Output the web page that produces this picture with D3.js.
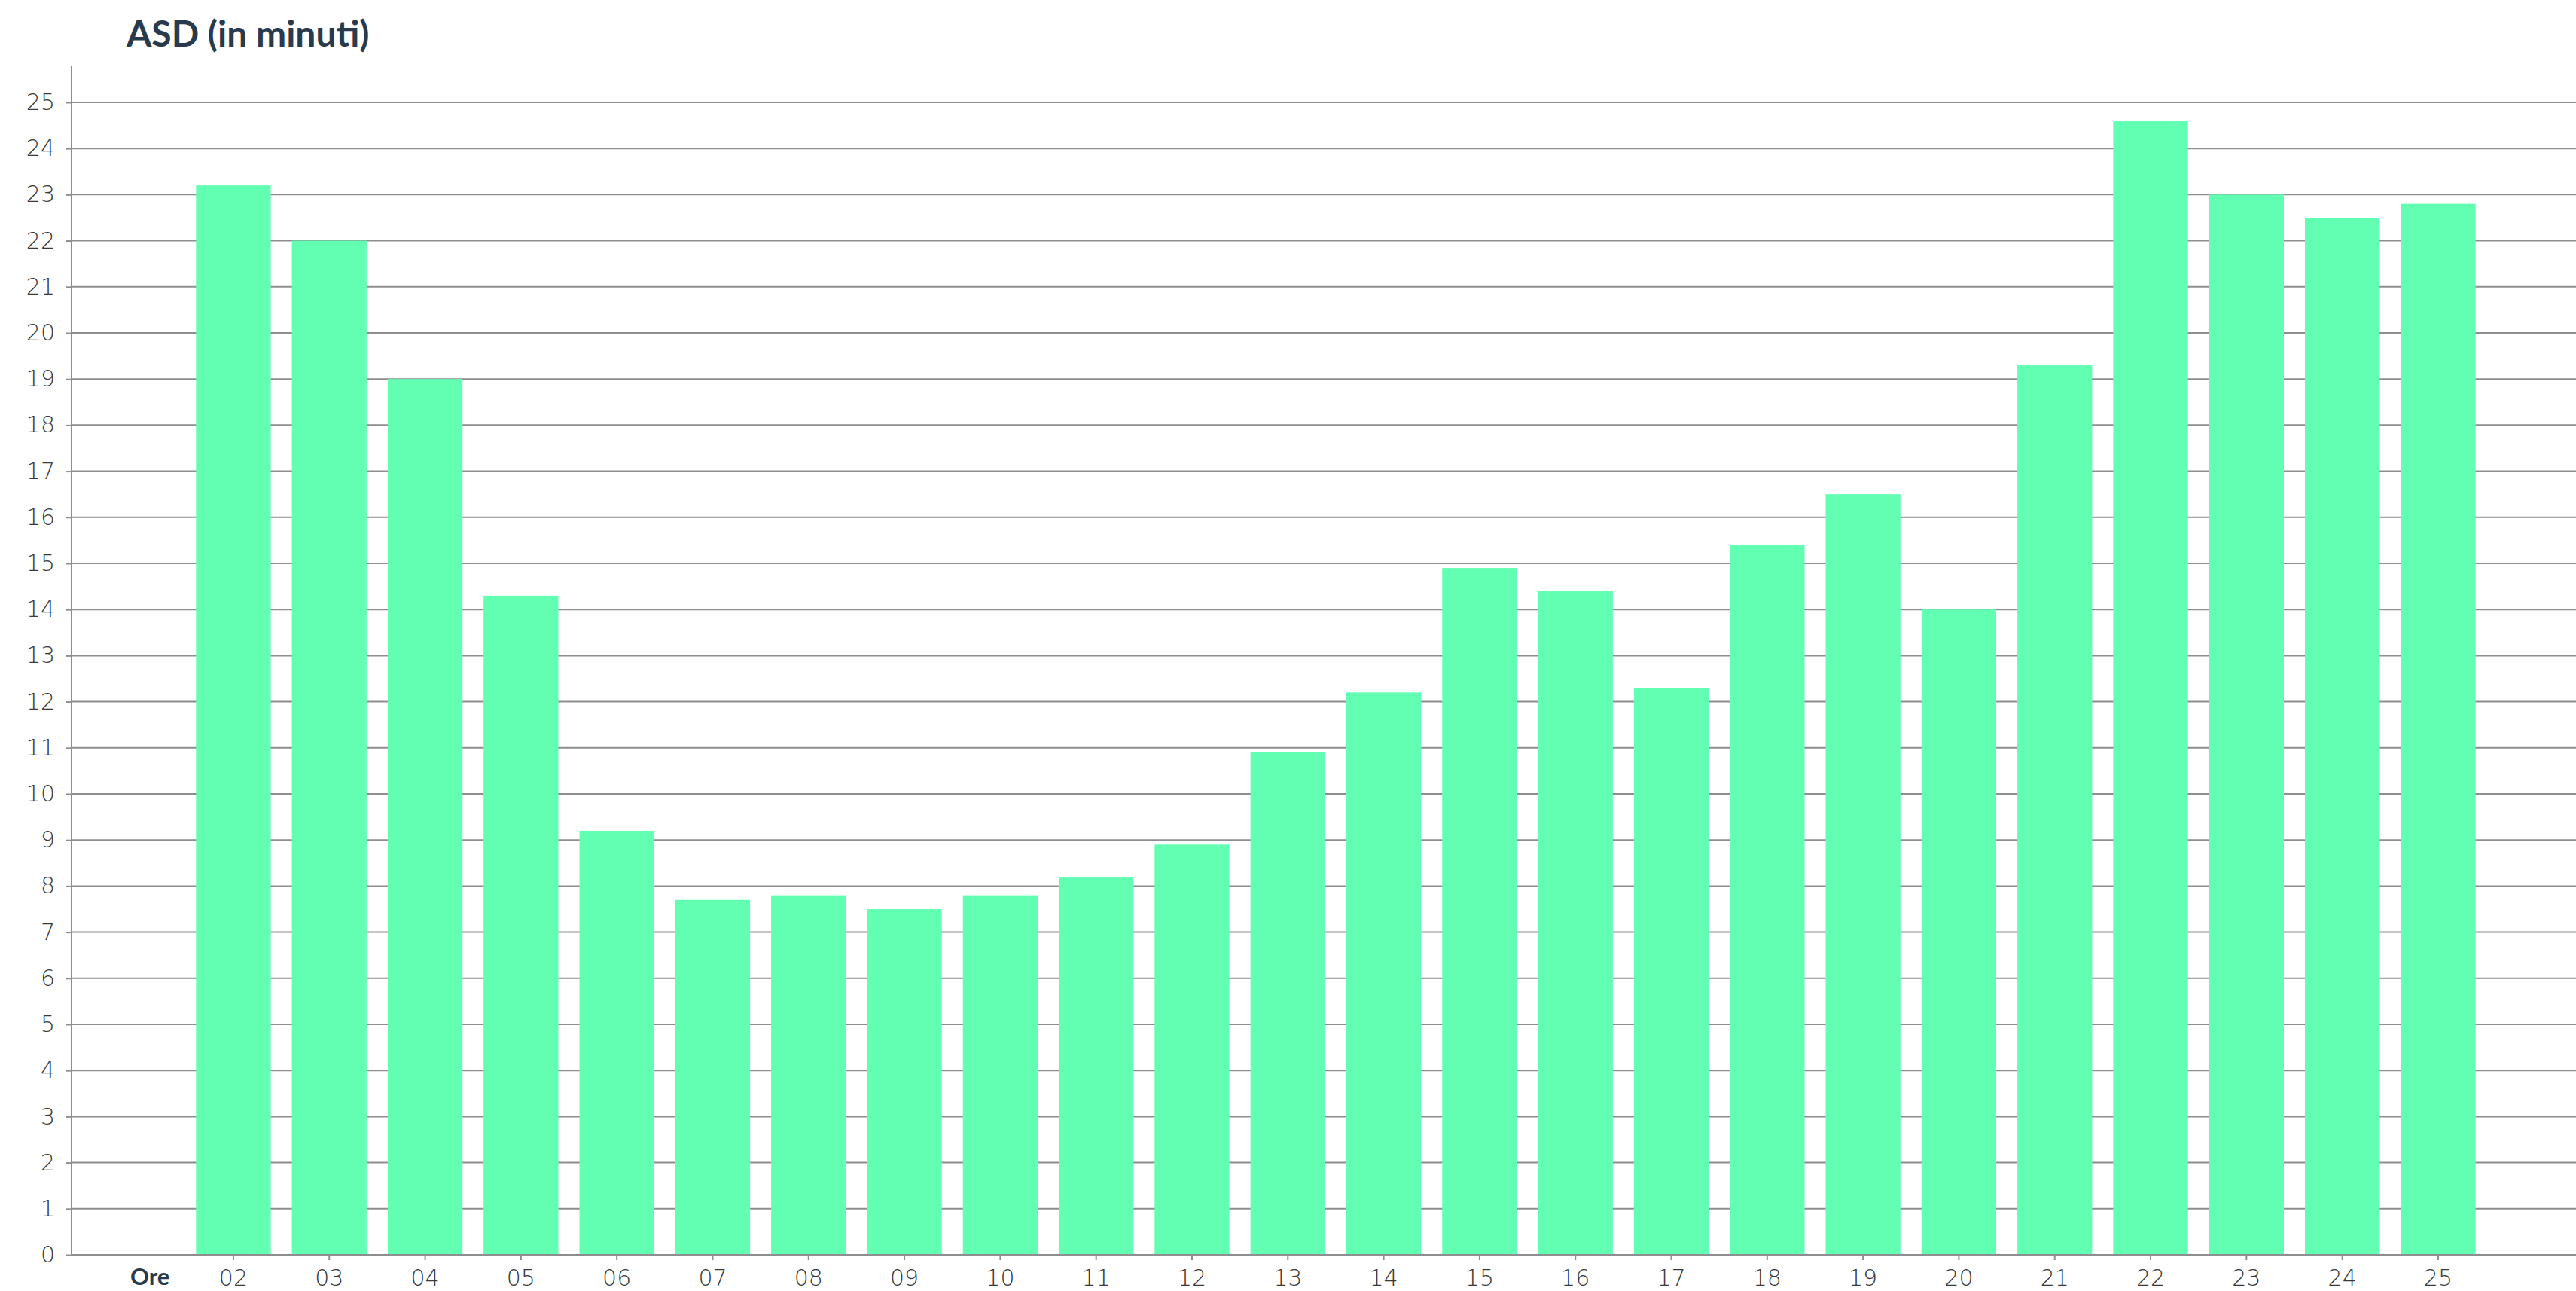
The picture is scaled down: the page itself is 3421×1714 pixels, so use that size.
<!DOCTYPE html>
<html>
<head>
<meta charset="utf-8">
<script src="https://cdn.jsdelivr.net/npm/d3@7"></script>
<style>
    html, body { margin: 0; padding: 0; background: #fff; }
    svg { display: block; }
    .tick text { font-family: "DejaVu Sans", sans-serif; font-weight: 200; fill: #3a3a3a; }
    .title, .x-title { font-family: "Lato", sans-serif; fill: #2a3a4d; }
</style>
</head>
<body>
<div id="chart"></div>
<script>
// hours shown on the x axis
var hours = ['02', '03', '04', '05', '06', '07', '08', '09', '10', '11', '12', '13',
    '14', '15', '16', '17', '18', '19', '20', '21', '22', '23', '24', '25'];

// ASD in minutes, one value per hour
var asdValues = [23.2, 22.0, 19.0, 14.3, 9.2, 7.7, 7.8, 7.5, 7.8, 8.2, 8.9, 10.9,
    12.2, 14.9, 14.4, 12.3, 15.4, 16.5, 14.0, 19.3, 24.6, 23.0, 22.5, 22.8];

var yTicks = d3.range(0, 26);

var chartTitle = 'ASD (in minuti)';
var xAxisTitle = 'Ore';

var width = 3421;
var height = 1714;
var axisX = 95;
var baseY = 1666;

var data = hours.map(function (h, i) {
    return { hour: h, value: asdValues[i] };
});

var svg = d3.select('#chart')
    .append('svg')
    .attr('width', width)
    .attr('height', height);

var x = d3.scaleBand()
    .domain(hours)
    .range([260.3, 3287.6])
    .paddingInner(0.22)
    .paddingOuter(0);

var y = d3.scaleLinear()
    .domain([0, 25.8])
    .range([baseY, 87]);

// horizontal grid lines
svg.append('g')
    .attr('class', 'grid')
    .selectAll('line')
    .data(yTicks)
    .enter()
    .append('line')
    .attr('x1', axisX)
    .attr('x2', width)
    .attr('y1', function (d) { return y(d); })
    .attr('y2', function (d) { return y(d); })
    .attr('stroke', '#8e8e8e')
    .attr('stroke-width', 2);

// bars
svg.append('g')
    .selectAll('rect')
    .data(data)
    .enter()
    .append('rect')
    .attr('x', function (d) { return x(d.hour); })
    .attr('y', function (d) { return y(d.value); })
    .attr('width', x.bandwidth())
    .attr('height', function (d) { return baseY - y(d.value); })
    .attr('fill', '#62ffb2');

// y axis
var yAxis = svg.append('g')
    .attr('transform', 'translate(' + axisX + ',0)')
    .call(d3.axisLeft(y).tickValues(yTicks).tickSize(7).tickPadding(15).tickFormat(d3.format('d')));
yAxis.selectAll('text').style('font-size', '30px');

// x axis
var xAxis = svg.append('g')
    .attr('transform', 'translate(0,' + baseY + ')')
    .call(d3.axisBottom(x).tickSize(7).tickPadding(13));
xAxis.selectAll('text').style('font-size', '30px');
xAxis.select('.domain').remove();

svg.selectAll('.tick line').attr('stroke', '#8e8e8e').attr('stroke-width', 2);
yAxis.select('.domain').attr('stroke', '#8e8e8e').attr('stroke-width', 2)
    .attr('d', 'M0,' + y.range()[1] + 'V' + baseY);

// baseline along zero
svg.append('line')
    .attr('x1', axisX)
    .attr('x2', width)
    .attr('y1', baseY)
    .attr('y2', baseY)
    .attr('stroke', '#8e8e8e')
    .attr('stroke-width', 2);

// "Ore" sits one step left of the first hour label
svg.append('text')
    .attr('class', 'x-title')
    .attr('x', x('02') + x.bandwidth() / 2 - x.step() * 0.87)
    .attr('y', 1706)
    .attr('text-anchor', 'middle')
    .style('font-size', '31px')
    .style('font-weight', 700)
    .text(xAxisTitle);

svg.append('text')
    .attr('class', 'title')
    .attr('x', 168)
    .attr('y', 62)
    .style('font-size', '48px')
    .style('font-weight', 700)
    .text(chartTitle);
</script>
</body>
</html>
